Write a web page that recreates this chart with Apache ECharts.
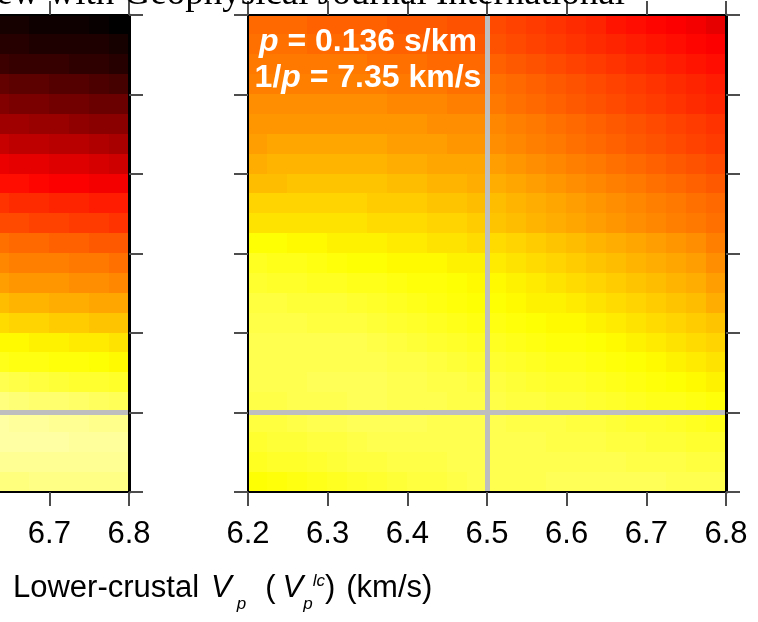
<!DOCTYPE html>
<html>
<head>
<meta charset="utf-8">
<script src="https://cdn.jsdelivr.net/npm/echarts@6/dist/echarts.min.js"></script>
<style>
  html, body { margin: 0; padding: 0; background: #ffffff; }
  #chart { width: 758px; height: 622px; }
</style>
</head>
<body>
<div id="chart"></div>
<script>
// Lower-crustal Vp axis (km/s)
const vpMin = 6.2, vpMax = 6.8, vpStep = 0.1;
// Lower-crustal thickness axis (km)
const thkMin = 10, thkMax = 40, thkStep = 5;
// Reference model marked by the grey cross-hairs
const refVp = 6.5, refThk = 15;
// Size of one cell of the misfit grids
const cellVp = 0.025, cellThk = 1.25;
// Vp at the centre of the first column stored for each panel
const leftFirstVp = 6.6375, rightFirstVp = 6.2125;
// Ray parameter of the right panel
const slowness = '0.136', apparentVel = '7.35';

// Normalised misfit (0 = best fit, 100 = worst), rows listed from the top of the panel down
const misfitLeft = [
  [97, 97, 98, 98, 98, 99, 100],
  [95, 95, 96, 96, 96, 96, 97],
  [92, 93, 93, 93, 94, 94, 95],
  [87, 88, 88, 89, 89, 90, 91],
  [83, 84, 84, 85, 85, 86, 86],
  [79, 79, 80, 80, 81, 82, 82],
  [74, 75, 75, 76, 76, 77, 78],
  [69, 70, 70, 71, 71, 72, 73],
  [65, 65, 66, 67, 67, 68, 68],
  [60, 61, 61, 62, 62, 63, 63],
  [57, 57, 58, 58, 59, 59, 60],
  [52, 53, 53, 54, 54, 55, 55],
  [49, 50, 50, 50, 51, 51, 52],
  [46, 47, 47, 47, 48, 48, 49],
  [42, 43, 43, 44, 44, 45, 45],
  [38, 39, 39, 40, 40, 41, 41],
  [34, 34, 35, 35, 36, 36, 37],
  [30, 31, 31, 32, 32, 33, 34],
  [23, 24, 25, 26, 27, 27, 28],
  [17, 18, 19, 19, 20, 21, 22],
  [12, 13, 13, 14, 14, 15, 15],
  [12, 12, 12, 12, 13, 13, 13],
  [14, 14, 14, 14, 14, 14, 14],
  [17, 17, 16, 16, 16, 16, 16]
];

const misfitRight = [
  [53, 53, 53, 54, 54, 54, 54, 55, 55, 55, 56, 56, 57, 58, 59, 60, 61, 62, 64, 65, 66, 67, 68, 70],
  [52, 52, 52, 53, 53, 53, 53, 54, 54, 54, 55, 55, 56, 57, 58, 59, 60, 61, 62, 63, 64, 65, 66, 67],
  [51, 51, 51, 51, 51, 51, 52, 52, 52, 53, 53, 53, 54, 55, 56, 57, 58, 59, 60, 61, 62, 63, 64, 65],
  [50, 50, 50, 50, 50, 50, 50, 51, 51, 51, 52, 52, 52, 53, 54, 55, 56, 57, 58, 59, 60, 61, 62, 63],
  [48, 48, 48, 48, 48, 48, 48, 49, 49, 49, 50, 50, 51, 52, 53, 54, 55, 56, 57, 58, 59, 60, 61, 62],
  [47, 47, 47, 47, 47, 47, 47, 47, 47, 48, 48, 48, 49, 50, 51, 52, 53, 54, 55, 56, 57, 58, 59, 60],
  [46, 45, 45, 45, 45, 45, 45, 46, 46, 46, 47, 47, 48, 49, 50, 51, 52, 53, 54, 55, 56, 57, 58, 59],
  [44, 43, 43, 43, 43, 43, 43, 44, 44, 45, 45, 45, 46, 47, 48, 49, 50, 51, 52, 53, 54, 55, 56, 57],
  [42, 42, 41, 41, 41, 41, 41, 42, 42, 43, 43, 44, 44, 45, 46, 47, 48, 49, 50, 51, 52, 53, 54, 55],
  [39, 39, 39, 39, 39, 39, 40, 40, 40, 41, 41, 42, 42, 43, 44, 45, 46, 47, 48, 49, 50, 51, 52, 53],
  [37, 37, 37, 37, 37, 37, 38, 38, 38, 39, 39, 40, 41, 42, 43, 44, 45, 46, 47, 48, 49, 50, 51, 52],
  [33, 33, 34, 34, 35, 35, 35, 36, 36, 37, 37, 38, 38, 39, 40, 41, 42, 43, 44, 45, 46, 47, 48, 50],
  [29, 30, 30, 31, 32, 33, 33, 34, 34, 34, 35, 35, 36, 37, 38, 39, 40, 41, 42, 43, 44, 45, 46, 48],
  [27, 28, 28, 29, 29, 30, 30, 31, 32, 32, 33, 34, 34, 35, 36, 37, 38, 39, 40, 41, 42, 43, 44, 46],
  [25, 25, 26, 26, 26, 27, 28, 29, 30, 31, 32, 33, 33, 34, 35, 35, 36, 37, 38, 39, 40, 41, 42, 44],
  [24, 24, 24, 25, 25, 25, 26, 27, 28, 29, 30, 31, 31, 32, 33, 34, 34, 35, 36, 37, 38, 39, 40, 41],
  [23, 23, 23, 23, 23, 23, 24, 25, 26, 27, 28, 29, 29, 30, 31, 32, 32, 33, 34, 35, 36, 37, 38, 39],
  [23, 23, 23, 23, 23, 23, 23, 24, 24, 25, 26, 27, 27, 28, 29, 30, 30, 31, 32, 33, 34, 35, 36, 37],
  [23, 23, 23, 22, 22, 22, 22, 23, 23, 24, 24, 25, 25, 26, 27, 28, 28, 29, 30, 31, 32, 33, 34, 35],
  [24, 24, 23, 23, 23, 22, 22, 23, 23, 23, 24, 24, 24, 25, 25, 26, 26, 27, 28, 29, 30, 30, 31, 32],
  [25, 25, 24, 23, 23, 22, 22, 22, 22, 23, 23, 23, 23, 24, 24, 24, 25, 25, 26, 27, 27, 28, 29, 30],
  [27, 26, 26, 25, 25, 24, 23, 23, 23, 23, 23, 23, 23, 23, 23, 24, 24, 24, 25, 25, 26, 26, 27, 27],
  [29, 28, 28, 27, 26, 25, 25, 24, 24, 24, 23, 23, 23, 23, 23, 23, 23, 23, 23, 24, 24, 24, 25, 25],
  [33, 32, 31, 30, 29, 28, 27, 26, 25, 25, 24, 23, 23, 23, 23, 22, 22, 22, 22, 22, 22, 23, 23, 23]
];

const SANS = '"Liberation Sans", Arial, Helvetica, sans-serif';
const SERIF = '"Liberation Serif", "Times New Roman", serif';

// Turn a table into [vp, thickness, misfit] triples at the cell centres
function toCells(table, firstVp) {
  const out = [];
  table.forEach(function (row, r) {
    const thk = thkMax - cellThk * (r + 0.5);
    row.forEach(function (v, c) {
      out.push([firstVp + cellVp * c, thk, v]);
    });
  });
  return out;
}

// One filled rectangle per grid cell, sized through the axis scales
function renderCell(params, api) {
  const vp = api.value(0), thk = api.value(1);
  const a = api.coord([vp - cellVp / 2, thk + cellThk / 2]);
  const b = api.coord([vp + cellVp / 2, thk - cellThk / 2]);
  const x0 = Math.floor(a[0]), y0 = Math.floor(a[1]);
  const x1 = Math.ceil(b[0]), y1 = Math.ceil(b[1]);
  return {
    type: 'rect',
    shape: { x: x0, y: y0, width: x1 - x0, height: y1 - y0 },
    style: { fill: api.visual('color') }
  };
}

const panels = [
  { left: -349, data: toCells(misfitLeft, leftFirstVp) },
  { left: 248, data: toCells(misfitRight, rightFirstVp) }
];

const frameColor = '#000000';
const tickStyle = { show: true, inside: false, length: 14, lineStyle: { color: '#4d4d4d', width: 2 } };

const grids = [], xAxes = [], yAxes = [], series = [];
panels.forEach(function (p, g) {
  grids.push({ left: p.left, top: 15, width: 478, height: 477, outerBoundsMode: 'none', containLabel: false });
  // bottom axis with labels
  xAxes.push({
    gridIndex: g, type: 'value', position: 'bottom', min: vpMin, max: vpMax, interval: vpStep, z: 10,
    axisLine: { show: true, onZero: false, lineStyle: { color: frameColor, width: 2 } },
    axisTick: tickStyle, splitLine: { show: false },
    axisLabel: {
      show: true, margin: 27, color: '#000', fontSize: 31, fontFamily: SANS,
      showMinLabel: true, showMaxLabel: true,
      formatter: function (v) { return v.toFixed(1); }
    }
  });
  // top axis, ticks only
  xAxes.push({
    gridIndex: g, type: 'value', position: 'top', min: vpMin, max: vpMax, interval: vpStep, z: 10,
    axisLine: { show: true, onZero: false, lineStyle: { color: frameColor, width: 2 } },
    axisTick: tickStyle, splitLine: { show: false }, axisLabel: { show: false }
  });
  yAxes.push({
    gridIndex: g, type: 'value', position: 'left', min: thkMin, max: thkMax, interval: thkStep, z: 10,
    axisLine: { show: true, onZero: false, lineStyle: { color: frameColor, width: 2 } },
    axisTick: tickStyle, splitLine: { show: false }, axisLabel: { show: false }
  });
  yAxes.push({
    gridIndex: g, type: 'value', position: 'right', min: thkMin, max: thkMax, interval: thkStep, z: 10,
    axisLine: { show: true, onZero: false, lineStyle: { color: frameColor, width: 3 } },
    axisTick: tickStyle, splitLine: { show: false }, axisLabel: { show: false }
  });
  series.push({
    type: 'custom',
    name: 'misfit' + g,
    xAxisIndex: 2 * g, yAxisIndex: 2 * g,
    dimensions: ['vp', 'thickness', 'misfit'],
    encode: { x: 0, y: 1 },
    renderItem: renderCell,
    clip: true,
    silent: true,
    data: p.data,
    markLine: {
      silent: true, symbol: 'none', animation: false,
      label: { show: false },
      lineStyle: { color: '#bebebe', width: 5, type: 'solid' },
      data: [{ xAxis: refVp }, { yAxis: refThk }]
    }
  });
});

const chart = echarts.init(document.getElementById('chart'), null, { renderer: 'canvas' });
chart.setOption({
  animation: false,
  backgroundColor: '#ffffff',
  grid: grids,
  xAxis: xAxes,
  yAxis: yAxes,
  visualMap: {
    type: 'continuous', show: false, seriesIndex: [0, 1], dimension: 2,
    min: 0, max: 100,
    inRange: { color: ['#ffffff', '#ffff00', '#ff0000', '#000000'] }
  },
  series: series,
  graphic: [
    {
      type: 'text', x: 625, y: -6, z: 20,
      style: {
        text: 'Under review with Geophysical Journal International',
        fill: '#000', font: '37px ' + SERIF, align: 'right', verticalAlign: 'middle'
      }
    },
    {
      type: 'text', x: 368, y: 24, z: 20,
      style: {
        text: '{i|p}{b| = ' + slowness + ' s/km}\n{b|1/}{i|p}{b| = ' + apparentVel + ' km/s}',
        align: 'center', verticalAlign: 'top',
        rich: {
          b: { fill: '#fff', fontSize: 32, fontWeight: 'bold', fontFamily: SANS, lineHeight: 36 },
          i: { fill: '#fff', fontSize: 32, fontWeight: 'bold', fontStyle: 'italic', fontFamily: SANS, lineHeight: 36 }
        }
      }
    },
    {
      type: 'text', x: 13, y: 563, z: 20,
      style: {
        text: '{n|Lower-crustal}{v|V}{s|p}{o|(}{w|V}{t|p}{u|lc}{n|)}{k|(km/s)}',
        align: 'left', verticalAlign: 'top',
        rich: {
          n: { fill: '#000', fontSize: 31, fontFamily: SANS, lineHeight: 50, verticalAlign: 'middle' },
          o: { fill: '#000', fontSize: 31, fontFamily: SANS, lineHeight: 50, verticalAlign: 'middle', padding: [0, 0, 0, 19] },
          k: { fill: '#000', fontSize: 31, fontFamily: SANS, lineHeight: 50, verticalAlign: 'middle', padding: [0, 0, 0, 11] },
          v: { fill: '#000', fontSize: 31, fontStyle: 'italic', fontFamily: SANS, lineHeight: 50, verticalAlign: 'middle', padding: [0, 0, 0, 12] },
          w: { fill: '#000', fontSize: 31, fontStyle: 'italic', fontFamily: SANS, lineHeight: 50, verticalAlign: 'middle', padding: [0, 0, 0, 7] },
          s: { fill: '#000', fontSize: 17, fontStyle: 'italic', fontFamily: SANS, lineHeight: 10, verticalAlign: 'bottom', padding: [0, 0, 0, 5] },
          t: { fill: '#000', fontSize: 17, fontStyle: 'italic', fontFamily: SANS, lineHeight: 10, verticalAlign: 'bottom' },
          u: { fill: '#000', fontSize: 17, fontStyle: 'italic', fontFamily: SANS, lineHeight: 17, verticalAlign: 'top', padding: [10, 0, 0, 0] }
        }
      }
    }
  ]
});
</script>
</body>
</html>
